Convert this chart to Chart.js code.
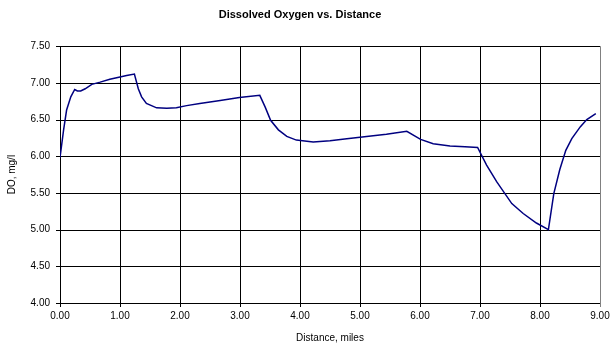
<!DOCTYPE html>
<html>
<head>
<meta charset="utf-8">
<title>Dissolved Oxygen vs. Distance</title>
<script src="https://cdn.jsdelivr.net/npm/chart.js@4/dist/chart.umd.min.js"></script>
<style>
    html, body { margin: 0; padding: 0; background: #fff; }
    #wrap { width: 615px; height: 353px; position: relative; }
</style>
</head>
<body>
<div id="wrap"><canvas id="do-chart"></canvas></div>
<script>
// Dissolved oxygen profile along the river reach.
const distanceMiles = [
    0.00, 0.06, 0.11, 0.18, 0.245, 0.29, 0.345, 0.42, 0.53, 0.67, 0.83, 1.00, 1.11, 1.24,
    1.305, 1.36, 1.44, 1.61, 1.78, 1.94, 2.11, 2.33, 2.67, 2.99, 3.33,
    3.42, 3.51, 3.64, 3.78, 3.94, 4.22, 4.50, 4.78, 5.11, 5.44, 5.78,
    6.01, 6.22, 6.50, 6.75, 6.96,
    7.11, 7.28, 7.53, 7.72, 7.94, 8.14,
    8.23, 8.33, 8.43, 8.53, 8.67, 8.78, 8.93,
];
const doMgL = [
    5.98, 6.36, 6.63, 6.81, 6.91, 6.89, 6.89, 6.92, 6.98, 7.01, 7.05, 7.08, 7.10, 7.12,
    6.92, 6.81, 6.72, 6.66, 6.655, 6.66, 6.69, 6.72, 6.76, 6.80, 6.83,
    6.67, 6.49, 6.36, 6.27, 6.22, 6.195, 6.21, 6.24, 6.27, 6.30, 6.34,
    6.23, 6.17, 6.14, 6.13, 6.12,
    5.88, 5.65, 5.355, 5.22, 5.09, 5.00,
    5.49, 5.82, 6.08, 6.24, 6.40, 6.50, 6.58,
];
const xTicks = [0, 1, 2, 3, 4, 5, 6, 7, 8, 9];
const yTicks = [4.0, 4.5, 5.0, 5.5, 6.0, 6.5, 7.0, 7.5];

const FONT = "'Liberation Sans', Arial, sans-serif";
const TICK_LEN = 4;

function axisRange(ticks) {
    return {
        min: ticks[0],
        max: ticks[ticks.length - 1],
        step: ticks[1] - ticks[0],
    };
}

// Excel-style gridlines with outside tick marks, placed through the scales.
const plotGrid = {
    id: "plotGrid",
    beforeDatasetsDraw(chart) {
        const { ctx, chartArea: a, scales } = chart;
        ctx.save();
        ctx.lineWidth = 1;
        for (const v of xTicks) {
            const px = Math.round(scales.x.getPixelForValue(v)) + 0.5;
            ctx.strokeStyle = v === xTicks[xTicks.length - 1] ? "#808080" : "#000";
            ctx.beginPath();
            ctx.moveTo(px, a.top);
            ctx.lineTo(px, a.bottom + TICK_LEN);
            ctx.stroke();
        }
        ctx.strokeStyle = "#000";
        for (const v of yTicks) {
            const py = Math.round(scales.y.getPixelForValue(v)) + 0.5;
            ctx.beginPath();
            ctx.moveTo(a.left - TICK_LEN, py);
            ctx.lineTo(a.right, py);
            ctx.stroke();
        }
        ctx.restore();
    },
};

function initChart() {
    const canvas = document.getElementById("do-chart");
    const points = distanceMiles.map((d, i) => ({ x: d, y: doMgL[i] }));
    const xr = axisRange(xTicks);
    const yr = axisRange(yTicks);

    new Chart(canvas, {
        type: "scatter",
        data: {
            datasets: [{
                label: "DO",
                data: points,
                showLine: true,
                borderColor: "#000080",
                backgroundColor: "#000080",
                borderWidth: 1.5,
                pointRadius: 0,
                tension: 0,
            }],
        },
        plugins: [plotGrid],
        options: {
            responsive: true,
            maintainAspectRatio: false,
            animation: false,
            layout: { padding: { left: 0, right: 15, top: 0, bottom: 0 } },
            plugins: {
                legend: { display: false },
                tooltip: { enabled: false },
                title: {
                    display: true,
                    text: "Dissolved Oxygen vs. Distance",
                    color: "#000",
                    font: { family: FONT, size: 11, weight: "bold" },
                    padding: { top: 8, bottom: 25 },
                },
            },
            scales: {
                x: {
                    type: "linear",
                    min: xr.min,
                    max: xr.max,
                    afterFit: s => { s.height = 50; },
                    ticks: {
                        stepSize: xr.step,
                        color: "#000",
                        font: { family: FONT, size: 10 },
                        padding: 3,
                        maxRotation: 0,
                        callback: v => Number(v).toFixed(2),
                    },
                    grid: { display: false, tickLength: TICK_LEN },
                    border: { color: "#000", width: 1 },
                    title: {
                        display: true,
                        text: "Distance, miles",
                        color: "#000",
                        font: { family: FONT, size: 10 },
                        padding: { top: 0, bottom: 9 },
                    },
                },
                y: {
                    type: "linear",
                    min: yr.min,
                    max: yr.max,
                    afterFit: s => { s.width = 60; },
                    ticks: {
                        stepSize: yr.step,
                        color: "#000",
                        font: { family: FONT, size: 10 },
                        padding: 6,
                        callback: v => Number(v).toFixed(2),
                    },
                    grid: { display: false, tickLength: TICK_LEN },
                    border: { color: "#000", width: 1 },
                    title: {
                        display: true,
                        text: "DO, mg/l",
                        color: "#000",
                        font: { family: FONT, size: 10 },
                        padding: { top: 6, bottom: 0 },
                    },
                },
            },
        },
    });
}

initChart();
</script>
</body>
</html>
